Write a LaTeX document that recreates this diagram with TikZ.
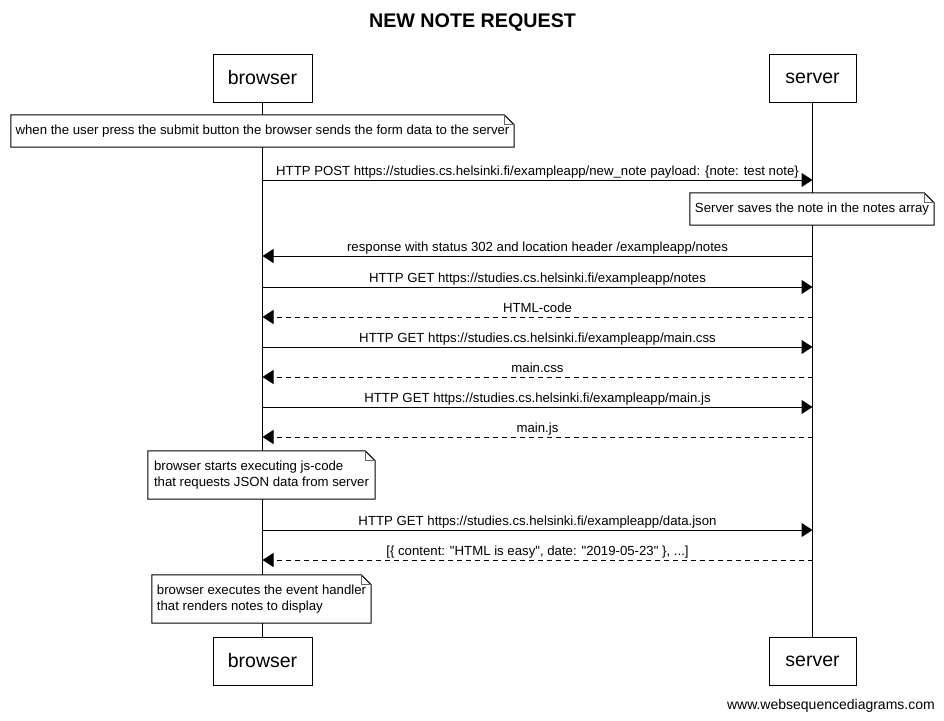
\documentclass[tikz,border=0pt]{standalone}
\usepackage{fontspec}
\setmainfont{Liberation Sans}
\newfontfamily\rawsans{Liberation Sans}[Ligatures=TeXOff]
\usetikzlibrary{arrows.meta}
\newcommand\foldnote[1]{%
  \draw[line width=1pt] (#1.north west) -- ([xshift=-10pt]#1.north east) -- ([yshift=-10pt]#1.north east) -- (#1.south east) -- (#1.south west) -- cycle;
  \draw[line width=0.8pt,black!60] ([xshift=-10pt]#1.north east) -- ([xshift=-10pt,yshift=-10pt]#1.north east) -- ([yshift=-10pt]#1.north east);}
\begin{document}
\begin{tikzpicture}[x=1pt,y=-1pt,
  actorbox/.style={draw,line width=1pt,fill=white,minimum height=48pt,inner sep=0pt,font=\fontsize{19.5}{23}\selectfont},
  notebox/.style={fill=white,inner sep=0pt,font=\fontsize{13.2}{16.5}\selectfont,align=left},
  msgline/.style={line width=1pt,-{Triangle[length=11pt,width=14pt]}},
  replyline/.style={msgline,dash pattern=on 5pt off 4pt},
  msglabel/.style={midway,anchor=base,inner sep=0pt,yshift=4.5pt,font=\fontsize{13.2}{15}\selectfont},
  lifeline/.style={line width=1pt},
]
\useasboundingbox[fill=white] (0,0) rectangle (944,720);

\node[font=\bfseries\fontsize{19.7}{23}\selectfont] (title) at (472.5,22.5) {NEW NOTE REQUEST};

\node[actorbox,minimum width=99pt] (bt) at (262.5,78) {browser};
\node[actorbox,minimum width=87pt] (st) at (812.5,78) {server};
\node[actorbox,minimum width=99pt] (bb) at (262.5,661) {browser};
\node[actorbox,minimum width=87pt] (sb) at (812.5,661) {server};

\draw[lifeline] (bt.south) -- (bb.north);
\draw[lifeline] (st.south) -- (sb.north);

% note 1
\node[notebox,minimum width=503pt,minimum height=32pt] (n1) at (262.5,131) {when the user press the submit button the browser sends the form data to the server};
\foldnote{n1}

% messages
\coordinate (b1) at (262.5,180); \coordinate (s1) at (812.5,180);
\draw[msgline] (b1) -- (s1) node[msglabel] {HTTP POST https://studies.cs.helsinki.fi/exampleapp/new\_note payload: \{note: test note\}};

\node[notebox,minimum width=244pt,minimum height=32pt] (n2) at (812,209) {Server saves the note in the notes array};
\foldnote{n2}

\coordinate (b2) at (262.5,256); \coordinate (s2) at (812.5,256);
\draw[msgline] (s2) -- (b2) node[msglabel] {response with status 302 and location header /exampleapp/notes};

\coordinate (b3) at (262.5,287); \coordinate (s3) at (812.5,287);
\draw[msgline] (b3) -- (s3) node[msglabel] {HTTP GET https://studies.cs.helsinki.fi/exampleapp/notes};

\coordinate (b4) at (262.5,317); \coordinate (s4) at (812.5,317);
\draw[replyline] (s4) -- (b4) node[msglabel] {HTML-code};

\coordinate (b5) at (262.5,347); \coordinate (s5) at (812.5,347);
\draw[msgline] (b5) -- (s5) node[msglabel] {HTTP GET https://studies.cs.helsinki.fi/exampleapp/main.css};

\coordinate (b6) at (262.5,377); \coordinate (s6) at (812.5,377);
\draw[replyline] (s6) -- (b6) node[msglabel] {main.css};

\coordinate (b7) at (262.5,407); \coordinate (s7) at (812.5,407);
\draw[msgline] (b7) -- (s7) node[msglabel] {HTTP GET https://studies.cs.helsinki.fi/exampleapp/main.js};

\coordinate (b8) at (262.5,437); \coordinate (s8) at (812.5,437);
\draw[replyline] (s8) -- (b8) node[msglabel] {main.js};

\node[notebox,minimum width=227pt,minimum height=48pt] (n3) at (261.5,475) {browser starts executing js-code\\that requests JSON data from server};
\foldnote{n3}

\coordinate (b9) at (262.5,530); \coordinate (s9) at (812.5,530);
\draw[msgline] (b9) -- (s9) node[msglabel] {HTTP GET https://studies.cs.helsinki.fi/exampleapp/data.json};

\coordinate (b10) at (262.5,560); \coordinate (s10) at (812.5,560);
\draw[replyline] (s10) -- (b10) node[msglabel] {\rawsans [\{ content: "HTML is easy", date: "2019-05-23" \}, ...]};

\node[notebox,minimum width=219pt,minimum height=48pt] (n4) at (261.5,599) {browser executes the event handler\\that renders notes to display};
\foldnote{n4}

\node[anchor=base east,inner sep=0pt,font=\fontsize{14}{16}\selectfont] (footer) at (935,709) {www.websequencediagrams.com};
\end{tikzpicture}
\end{document}
